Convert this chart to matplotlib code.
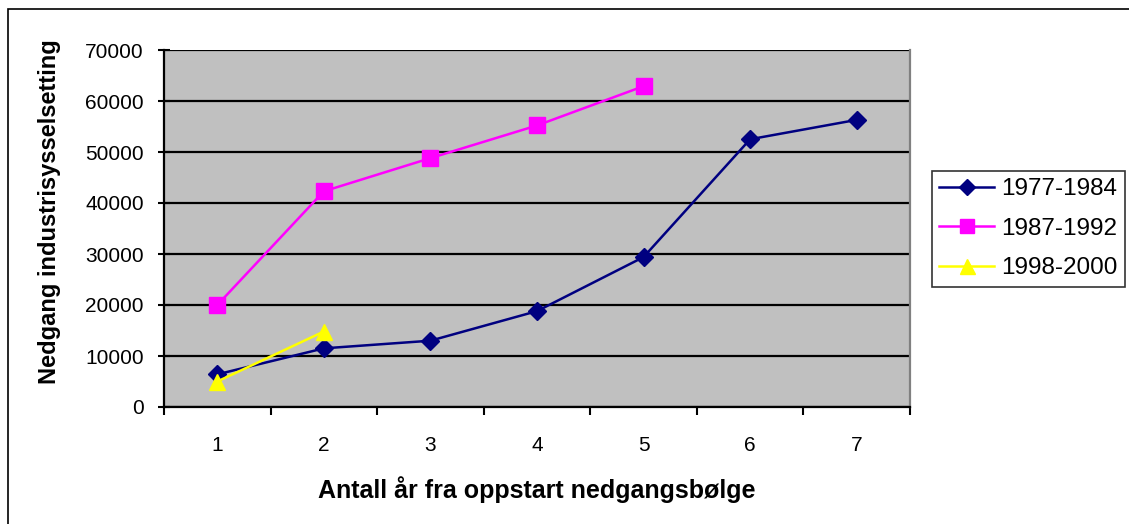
import numpy as np
import matplotlib.pyplot as plt
from matplotlib.patches import Rectangle

plt.rcParams['font.family'] = ['Liberation Sans', 'DejaVu Sans']

years = [1, 2, 3, 4, 5, 6, 7]
wave_77_84 = [6400, 11500, 13000, 18800, 29400, 52500, 56300]
wave_87_92 = [20000, 42300, 48800, 55200, 62900]
wave_98_00 = [5000, 14800]
yticks = [0, 10000, 20000, 30000, 40000, 50000, 60000, 70000]

W, H = 1129, 524
fig = plt.figure(figsize=(W / 100, H / 100), dpi=100)

# outer frame (only top/left edges fall inside the image)
fig.patches.append(Rectangle((8 / W, -0.1), 1.2, 1 - 9 / H + 0.1, transform=fig.transFigure,
                             fill=False, edgecolor='black', linewidth=1.2))

# plot area in pixel units
x0, x1, y0, y1 = 164, 910, 50, 407
ax = fig.add_axes([x0 / W, 1 - y1 / H, (x1 - x0) / W, (y1 - y0) / H])
ax.set_facecolor('#C0C0C0')

ax.plot(years, wave_77_84, color='#000080', lw=1.8, marker='D', ms=9.5, label='1977-1984', zorder=3)
ax.plot(years[:len(wave_87_92)], wave_87_92, color='#FF00FF', lw=1.8, marker='s', ms=11.5, label='1987-1992', zorder=3)
ax.plot(years[:len(wave_98_00)], wave_98_00, color='#FFFF00', lw=1.8, marker='^', ms=12, label='1998-2000', zorder=3)

ax.set_xlim(0.5, 7.5)
ax.set_ylim(0, 70000)
ax.set_yticks(yticks)
ax.set_yticklabels([str(v) for v in yticks])
ax.set_xticks(years)
ax.set_xticks(np.arange(0.5, 8.0, 1.0), minor=True)
ax.tick_params(axis='x', which='major', length=0, pad=21, labelsize=15)
ax.tick_params(axis='x', which='minor', length=6, width=1.5, direction='out')
ax.tick_params(axis='y', length=9, width=1.5, direction='inout', pad=10, labelsize=15)

ax.grid(axis='y', color='black', linewidth=1.6)
ax.set_axisbelow(True)
for side in ['left', 'bottom']:
    ax.spines[side].set_linewidth(1.6)
ax.spines['top'].set_visible(False)
ax.spines['right'].set_color('#808080')
ax.spines['right'].set_linewidth(1.6)

ax.set_xlabel('Antall år fra oppstart nedgangsbølge', fontsize=18, fontweight='bold', labelpad=15)
ax.set_ylabel('Nedgang industrisysselsetting', fontsize=17, fontweight='bold')
ax.yaxis.set_label_coords(-0.138, 0.546)

leg = fig.legend(loc='upper left', bbox_to_anchor=(932 / W, 1 - 171 / H), fontsize=17.5,
                 frameon=True, fancybox=False, edgecolor='black', handlelength=2.25,
                 handletextpad=0.3, borderpad=0.3, labelspacing=0.72, borderaxespad=0,
                 markerscale=0.9)
leg.get_frame().set_linewidth(1.2)

fig.savefig('out.png', dpi=100)
